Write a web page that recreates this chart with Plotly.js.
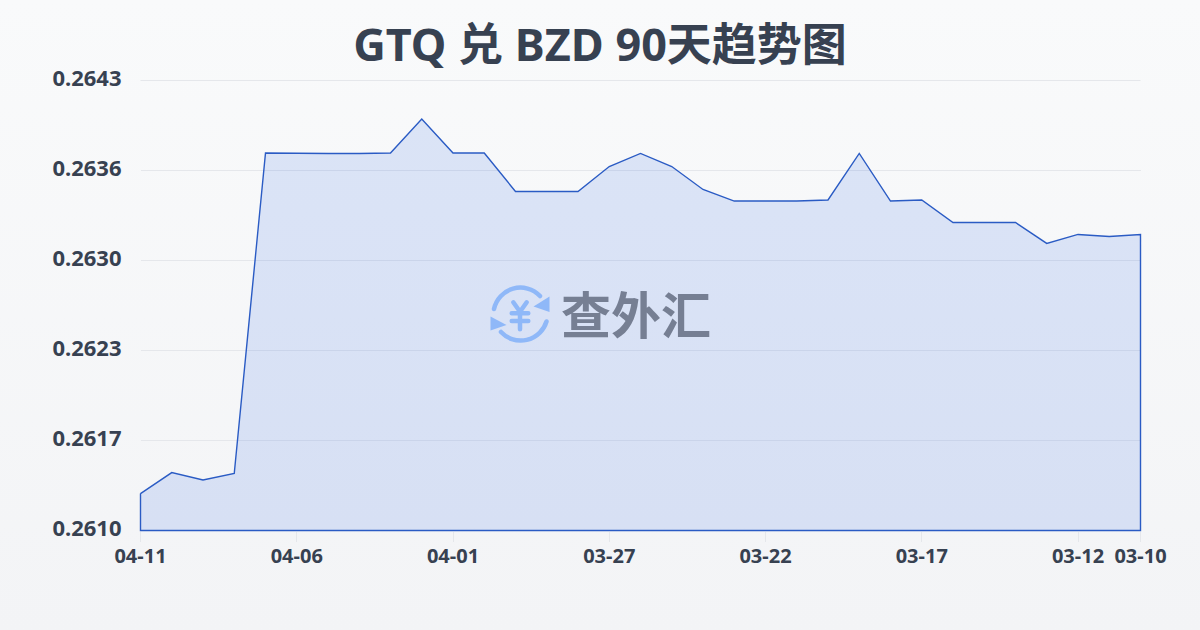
<!DOCTYPE html>
<html>
<head>
<meta charset="utf-8">
<script src="https://cdn.plot.ly/plotly-3.0.1.min.js"></script>
<style>
html,body{margin:0;padding:0;width:1200px;height:630px;overflow:hidden;background:linear-gradient(180deg,#f9fafb 0%,#f3f4f6 100%);}
#chart{width:1200px;height:630px;}
.cartesianlayer,.layer-below{transform:translate(0.5px,0.5px);}
.cartesianlayer *{clip-path:none !important;}
.ytick{transform:translateY(-2px);}
</style>
</head>
<body>
<div id="chart"></div>
<script>
const dates = ["04-11","04-10","04-09","04-08","04-07","04-06","04-05","04-04","04-03","04-02","04-01","03-31","03-30","03-29","03-28","03-27","03-26","03-25","03-24","03-23","03-22","03-21","03-20","03-19","03-18","03-17","03-16","03-15","03-14","03-13","03-12","03-11","03-10"];
const rates = [0.261271,0.261425,0.261370,0.261418,0.263768,0.263765,0.263765,0.263765,0.263768,0.264018,0.263768,0.263768,0.263486,0.263486,0.263486,0.263669,0.263765,0.263669,0.263501,0.263416,0.263416,0.263416,0.263424,0.263765,0.263416,0.263424,0.263259,0.263259,0.263259,0.263105,0.263171,0.263156,0.263171];
const xTicks = ["04-11","04-06","04-01","03-27","03-22","03-17","03-12","03-10"];
const yTicks = [0.2610,0.26166,0.26232,0.26298,0.26364,0.2643];
const yLabels = ["0.2610","0.2617","0.2623","0.2630","0.2636","0.2643"];
const baseline = yTicks[0];
const chartTitle = "GTQ 兑 BZD 90天趋势图";
const brand = "查外汇";

const first = dates[0], last = dates[dates.length-1];
const iconSvg = `<svg xmlns="http://www.w3.org/2000/svg" viewBox="0 0 60 60" width="60" height="60"><g fill="none" stroke="#8fb8f8" stroke-width="4.5" stroke-linecap="round" stroke-linejoin="round"><path d="M4 24 A27 27 0 0 1 50 11"/><path d="M56.5 36.5 A27 27 0 0 1 11 47"/><path d="M23.3 17.3 L30 26.7 L36.7 17.3 M21.7 28.3 H38.3 M21.7 36 H38.3 M30 26.7 V44.3"/></g><g fill="#8fb8f8"><path d="M59.5 11.5 V27 L43.5 21.5 Z"/><path d="M0.5 31.5 V45.5 L16.5 40 Z"/></g></svg>`;

Plotly.newPlot("chart",[{
  type:"scatter",
  mode:"lines",
  x:dates.concat([last,first,first]),
  y:rates.concat([baseline,baseline,rates[0]]),
  fill:"toself",
  fillcolor:"rgba(45,105,228,0.145)",
  line:{color:"#2a5bc4",width:1.4,shape:"linear"},
  cliponaxis:false,
  hoverinfo:"skip"
}],{
  width:1200,height:630,
  paper_bgcolor:"rgba(0,0,0,0)",
  plot_bgcolor:"rgba(0,0,0,0)",
  margin:{l:140,r:60,t:80,b:100,pad:0},
  showlegend:false,
  font:{family:"'Noto Sans','Noto Sans CJK SC',sans-serif",color:"#374151"},
  title:{text:"<b>"+chartTitle+"</b>",x:0.5,xanchor:"center",y:0.928,yanchor:"middle",font:{size:45,color:"#374151",family:"'Noto Sans','Noto Sans CJK SC',sans-serif"}},
  xaxis:{
    type:"category",categoryorder:"array",categoryarray:dates,
    range:[0,dates.length-1],
    tickmode:"array",tickvals:xTicks,ticktext:xTicks.map(t=>"<b>"+t+"</b>"),
    showgrid:false,zeroline:false,showline:false,
    ticks:"outside",ticklen:10,tickwidth:1,tickcolor:"#e5e7eb",
    ticklabelstandoff:-3,
    tickfont:{size:20,color:"#374151"},tickangle:0
  },
  yaxis:{
    range:[yTicks[0],yTicks[yTicks.length-1]],
    tickmode:"array",tickvals:yTicks,ticktext:yLabels.map(t=>"<b>"+t+"</b>"),
    showgrid:true,gridcolor:"#e5e7eb",gridwidth:1,zeroline:false,showline:false,
    ticks:"",ticklabelstandoff:18,
    tickfont:{size:22,color:"#374151"}
  },
  shapes:[{type:"line",xref:"paper",yref:"paper",x0:0,x1:1,y0:1,y1:1,layer:"below",line:{color:"#e5e7eb",width:1}}],
  images:[{
    source:"data:image/svg+xml;charset=utf-8,"+encodeURIComponent(iconSvg),
    xref:"paper",yref:"paper",x:0.35,y:0.5444,sizex:0.06,sizey:0.1333,
    xanchor:"left",yanchor:"top",sizing:"stretch",layer:"above"
  }],
  annotations:[{
    text:"<b>"+brand+"</b>",xref:"paper",yref:"paper",x:0.496,y:0.485,
    xanchor:"center",yanchor:"middle",showarrow:false,
    font:{size:50,color:"#767f93",family:"'Noto Sans CJK SC',sans-serif"}
  }]
},{displayModeBar:false,staticPlot:true});
</script>
</body>
</html>
